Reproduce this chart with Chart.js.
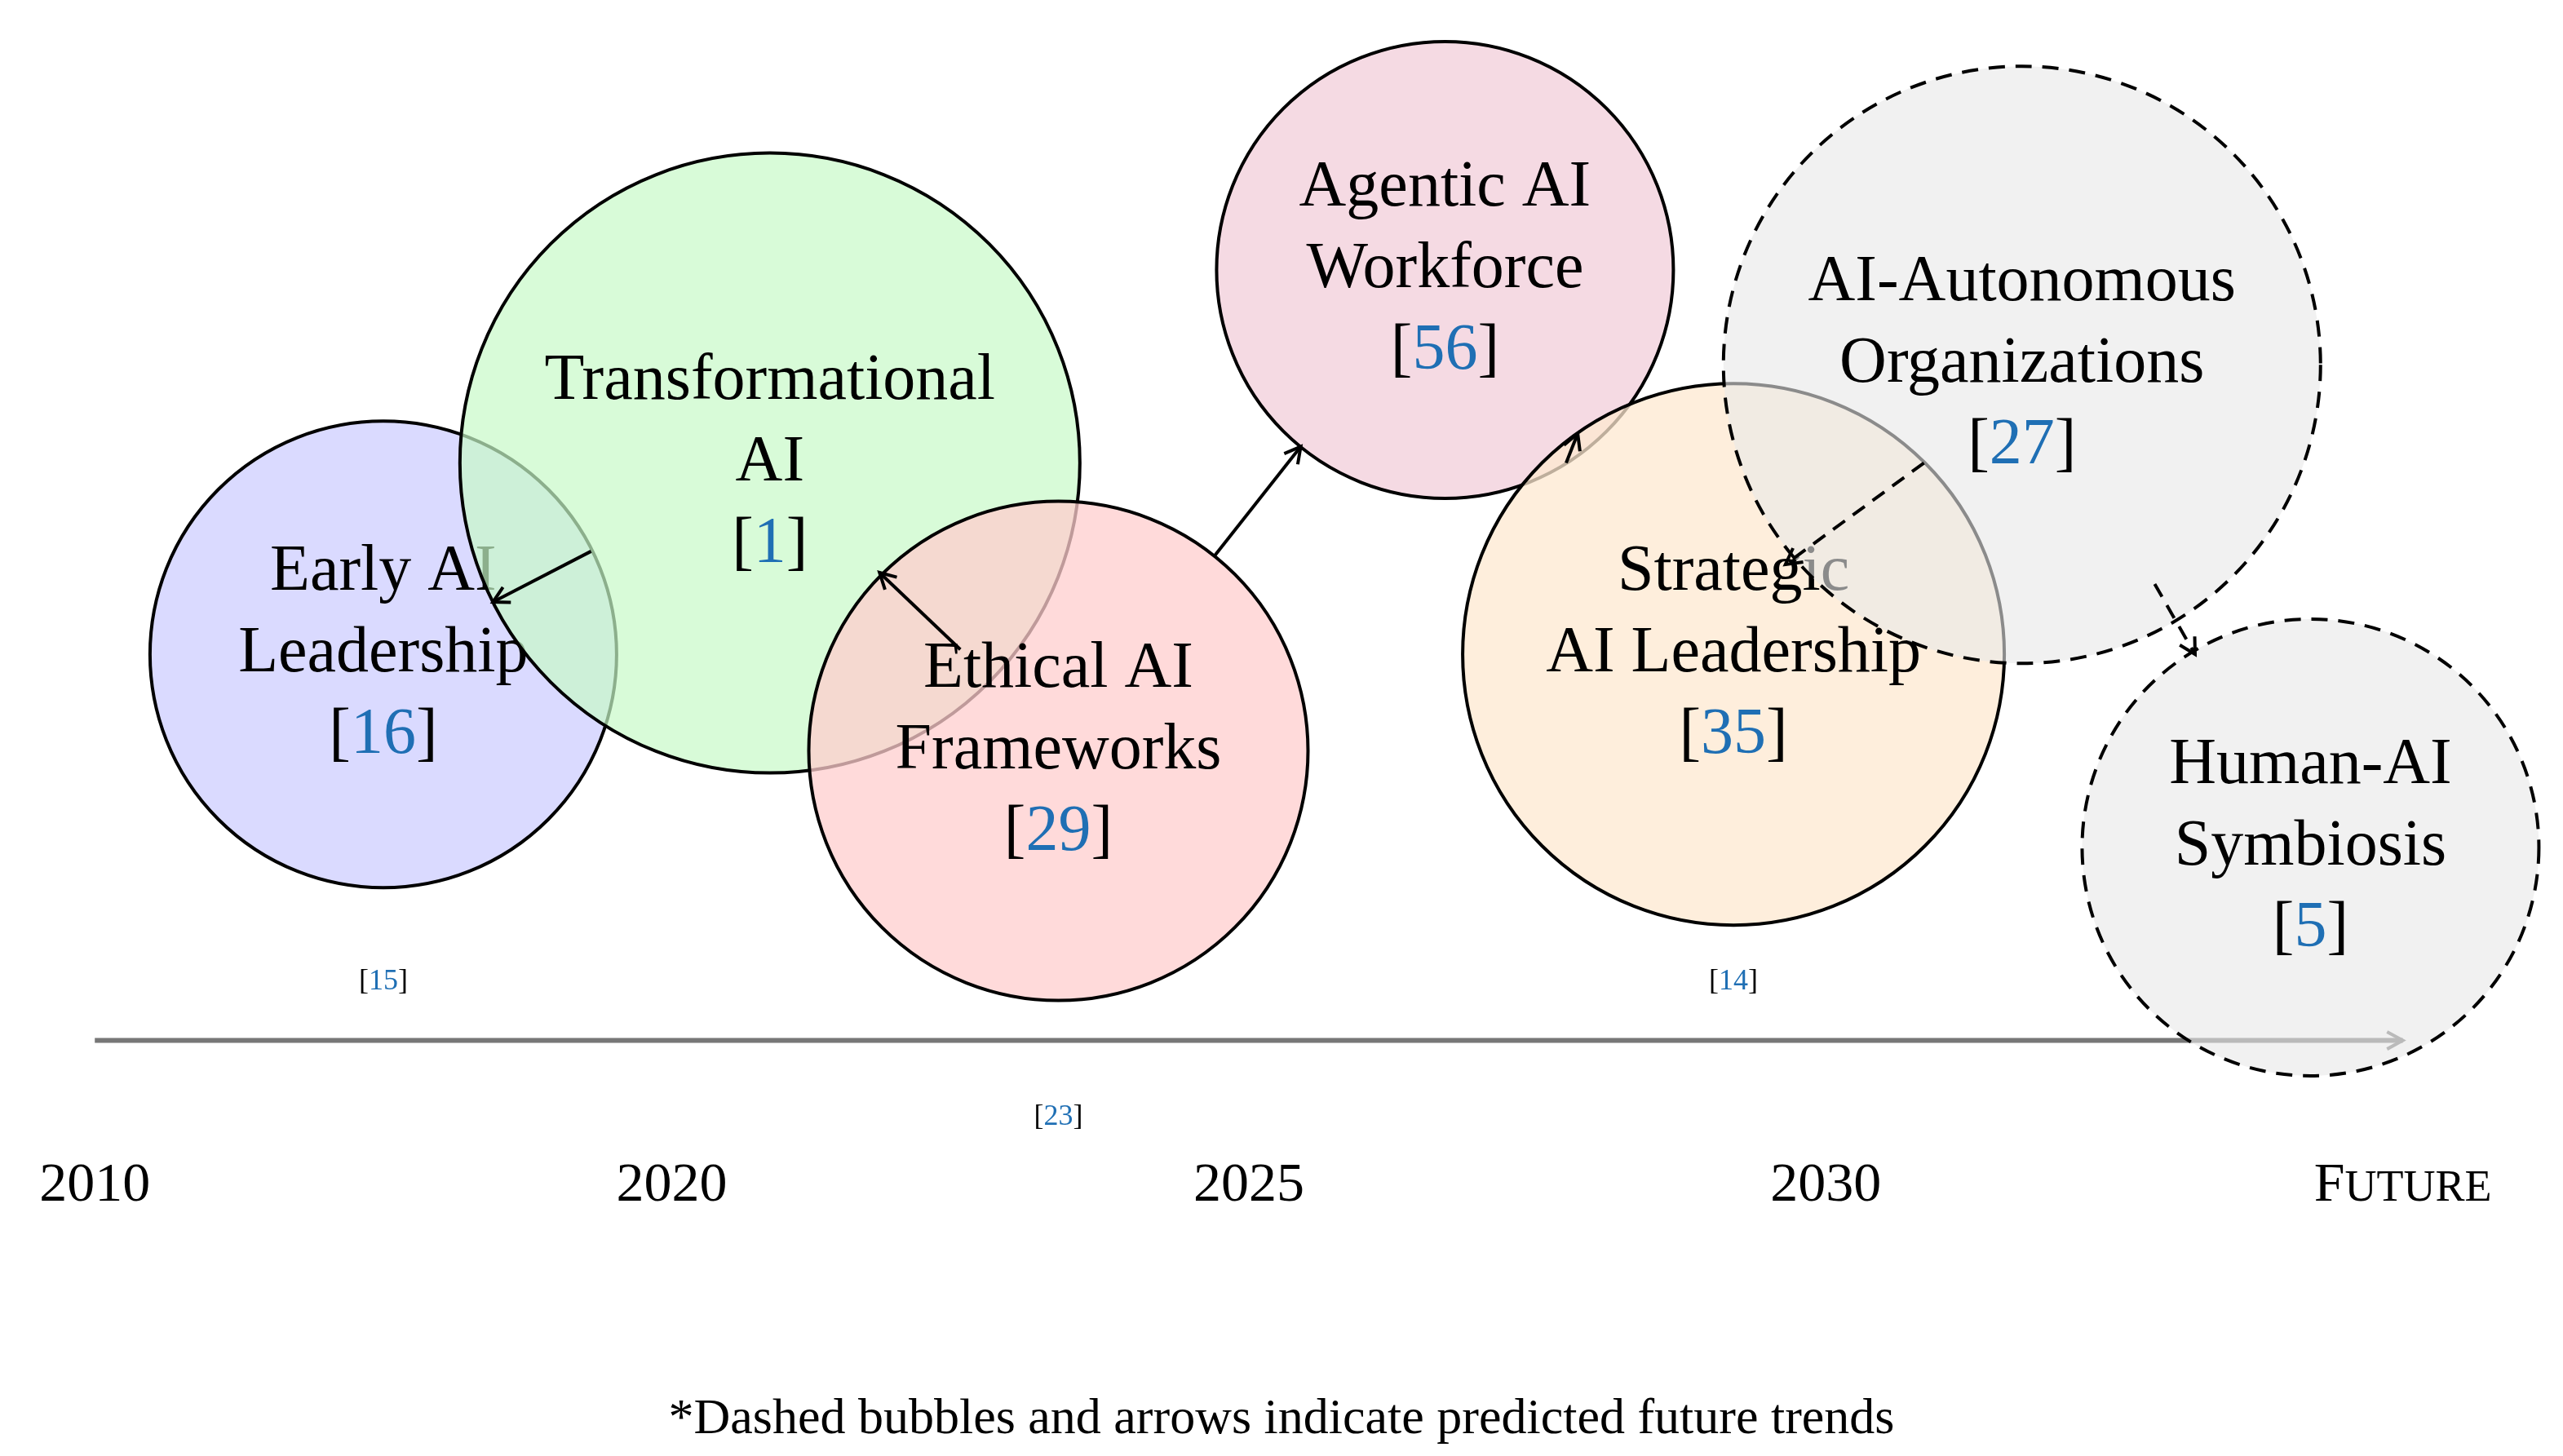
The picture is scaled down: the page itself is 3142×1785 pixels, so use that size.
<!DOCTYPE html>
<html>
<head>
<meta charset="utf-8">
<script src="https://cdn.jsdelivr.net/npm/chart.js@4"></script>
<style>html,body{margin:0;background:#fff}canvas{display:block}</style>
</head>
<body>
<canvas id="c" width="3142" height="1785" style="width:3142px;height:1785px"></canvas>
<script>
// Данные: позиция по шкале времени (индекс деления), высота, радиус
const tickLabels = ['2010', '2020', '2025', '2030', 'FUTURE'];
const bubbleNames = [
    ['Early AI', 'Leadership'],
    ['Transformational', 'AI'],
    ['Ethical AI', 'Frameworks'],
    ['Agentic AI', 'Workforce'],
    ['Strategic', 'AI Leadership'],
    ['AI-Autonomous', 'Organizations'],
    ['Human-AI', 'Symbiosis']
];
const bubbleRefs = ['16', '1', '29', '56', '35', '27', '5'];
const bubbleX = [0.5, 1.17, 1.67, 2.34, 2.84, 3.34, 3.84];
const bubbleY = [490, 607, 431, 725, 490, 667, 372];
const bubbleR = [286, 380, 306, 280, 332, 366, 280];
const bubbleFill = ['rgba(205,205,255,0.75)', 'rgba(200,250,200,0.7)', 'rgba(255,205,205,0.75)',
    'rgba(242,205,218,0.75)', 'rgba(253,232,208,0.75)', 'rgba(232,232,232,0.6)', 'rgba(232,232,232,0.6)'];
const bubbleDashed = [false, false, false, false, false, true, true];
const smallRefs = [['15', 0.5, 290], ['14', 2.84, 290], ['23', 1.67, 207]];
// стрелки: [x1, y1, x2, y2, пунктир]
const arrows = [
    [0.86, 553, 0.69, 522, false],
    [1.5, 493, 1.36, 540, false],
    [1.94, 550, 2.09, 617, false],
    [2.55, 607, 2.57, 625, false],
    [3.17, 607, 2.93, 545, true],
    [3.57, 533, 3.64, 490, true]
];

const SERIF = '"Liberation Serif", "DejaVu Serif", serif';

function arrowHead(ctx, x1, y1, x2, y2) {
    const a = Math.atan2(y2 - y1, x2 - x1), L = 22;
    ctx.setLineDash([]);
    ctx.beginPath();
    ctx.moveTo(x2 - L * Math.cos(a - 0.5), y2 - L * Math.sin(a - 0.5));
    ctx.lineTo(x2, y2);
    ctx.lineTo(x2 - L * Math.cos(a + 0.5), y2 - L * Math.sin(a + 0.5));
    ctx.stroke();
}

function refText(ctx, r, x, y) {
    const wb = ctx.measureText('[').width, wn = ctx.measureText(r).width;
    const sx = x - (2 * wb + wn) / 2;
    ctx.textAlign = 'left';
    ctx.fillStyle = '#000';
    ctx.fillText('[', sx, y);
    ctx.fillStyle = '#1f6fb4';
    ctx.fillText(r, sx + wb, y);
    ctx.fillStyle = '#000';
    ctx.fillText(']', sx + wb + wn, y);
    ctx.textAlign = 'center';
}

const overlay = {
    id: 'overlay',
    beforeDatasetsDraw(chart) {
        const ctx = chart.ctx, xs = chart.scales.x, ys = chart.scales.y;
        ctx.save();
        // ось времени
        const y0 = ys.getPixelForValue(254);
        ctx.strokeStyle = '#777';
        ctx.lineWidth = 6;
        ctx.beginPath();
        ctx.moveTo(xs.getPixelForValue(0), y0);
        ctx.lineTo(xs.getPixelForValue(4), y0);
        ctx.stroke();
        ctx.lineWidth = 4;
        arrowHead(ctx, xs.getPixelForValue(3.9), y0, xs.getPixelForValue(4), y0);
        ctx.restore();
    },
    afterDatasetDraw(chart, args) {
        const i = args.index, ctx = chart.ctx, xs = chart.scales.x, ys = chart.scales.y;
        const x = xs.getPixelForValue(bubbleX[i]), y = ys.getPixelForValue(bubbleY[i]);
        ctx.save();
        if (bubbleDashed[i]) {
            ctx.strokeStyle = '#000';
            ctx.lineWidth = 4;
            ctx.setLineDash([20, 13]);
            ctx.beginPath();
            ctx.arc(x, y, bubbleR[i], 0, Math.PI * 2);
            ctx.stroke();
            ctx.setLineDash([]);
        }
        ctx.textAlign = 'center';
        ctx.textBaseline = 'middle';
        ctx.fillStyle = '#000';
        ctx.font = '80px ' + SERIF;
        ctx.fillText(bubbleNames[i][0], x, y - 100);
        ctx.fillText(bubbleNames[i][1], x, y);
        refText(ctx, bubbleRefs[i], x, y + 100);
        ctx.restore();
    },
    afterDraw(chart) {
        const ctx = chart.ctx, xs = chart.scales.x, ys = chart.scales.y;
        ctx.save();
        ctx.textAlign = 'center';
        ctx.textBaseline = 'middle';
        ctx.fillStyle = '#000';
        tickLabels.forEach((t, i) => {
            const x = xs.getPixelForValue(i), y = ys.getPixelForValue(165);
            if (t === 'FUTURE') {
                ctx.font = '68px ' + SERIF;
                const w1 = ctx.measureText('F').width;
                ctx.font = '54px ' + SERIF;
                const w2 = ctx.measureText('UTURE').width;
                const sx = x - (w1 + w2) / 2;
                ctx.textAlign = 'left';
                ctx.font = '68px ' + SERIF;
                ctx.fillText('F', sx, y);
                ctx.font = '54px ' + SERIF;
                ctx.fillText('UTURE', sx + w1, y + 4);
                ctx.textAlign = 'center';
            } else {
                ctx.font = '68px ' + SERIF;
                ctx.fillText(t, x, y);
            }
        });
        ctx.font = '36px ' + SERIF;
        smallRefs.forEach(([r, x, y]) => {
            refText(ctx, r, xs.getPixelForValue(x), ys.getPixelForValue(y));
        });
        ctx.font = '62px ' + SERIF;
        ctx.fillStyle = '#000';
        ctx.fillText('*Dashed bubbles and arrows indicate predicted future trends', chart.width / 2, ys.getPixelForValue(22));

        ctx.strokeStyle = '#000';
        ctx.lineWidth = 4;
        arrows.forEach(([x1, y1, x2, y2, d]) => {
            const px1 = xs.getPixelForValue(x1), py1 = ys.getPixelForValue(y1);
            const px2 = xs.getPixelForValue(x2), py2 = ys.getPixelForValue(y2);
            ctx.setLineDash(d ? [18, 12] : []);
            ctx.beginPath();
            ctx.moveTo(px1, py1);
            ctx.lineTo(px2, py2);
            ctx.stroke();
            arrowHead(ctx, px1, py1, px2, py2);
        });
        ctx.restore();
    }
};

new Chart(document.getElementById('c').getContext('2d'), {
    type: 'bubble',
    data: {
        datasets: bubbleX.map((x, i) => ({
            label: bubbleNames[i].join(' '),
            data: [{ x: x, y: bubbleY[i], r: bubbleR[i] }],
            backgroundColor: bubbleFill[i],
            borderColor: '#000',
            borderWidth: bubbleDashed[i] ? 0 : 4,
            order: 10 - i
        }))
    },
    options: {
        responsive: false,
        devicePixelRatio: 1,
        animation: false,
        layout: { padding: 0, autoPadding: false },
        scales: {
            x: { type: 'linear', display: false, min: -58 / 353, max: (1568 - 58) / 353 },
            y: { type: 'linear', display: false, min: 0, max: 890 }
        },
        plugins: { legend: { display: false }, tooltip: { enabled: false } },
        elements: { point: { hoverRadius: 0 } }
    },
    plugins: [overlay]
});
</script>
</body>
</html>
